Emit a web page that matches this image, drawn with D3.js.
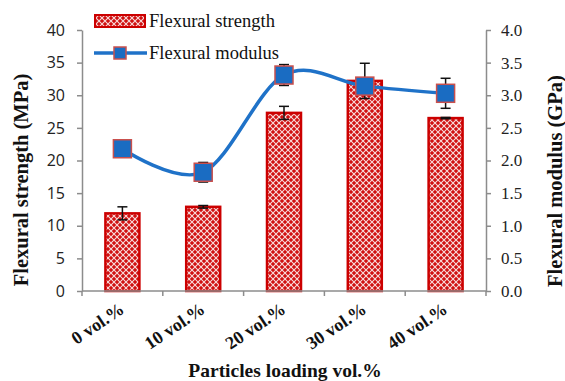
<!DOCTYPE html>
<html><head><meta charset="utf-8">
<script src="https://cdn.jsdelivr.net/npm/d3@7"></script>
<style>body{margin:0;background:#fff}svg{display:block}</style>
</head><body>
<script>
const categories = ["0 vol.%", "10 vol.%", "20 vol.%", "30 vol.%", "40 vol.%"];
const strength = [11.9, 12.9, 27.3, 32.2, 26.5];
const strengthErr = [1.0, 0.2, 1.0, 2.7, 0.1];
const modulus = [2.18, 1.82, 3.31, 3.14, 3.03];
const modulusErr = [0.05, 0.15, 0.16, 0.1, 0.23];
const leftTicks = [0, 5, 10, 15, 20, 25, 30, 35, 40];
const rightTicks = [0, 0.5, 1.0, 1.5, 2.0, 2.5, 3.0, 3.5, 4.0];

const W = 565, H = 381;
const m = {l: 82, r: 486, t: 30, b: 291};
const svg = d3.select("body").append("svg").attr("width", W).attr("height", H);

const defs = svg.append("defs");
const pat = defs.append("pattern").attr("id", "hatch").attr("patternUnits", "userSpaceOnUse")
  .attr("width", 6).attr("height", 6);
pat.append("rect").attr("width", 6).attr("height", 6).attr("fill", "#d01010");
pat.append("path").attr("d", "M0,0L6,6M6,0L0,6").attr("stroke", "#ffffff").attr("stroke-width", 1.1).attr("opacity", 0.85);

const x = d3.scaleBand().domain(categories).range([m.l, m.r]).paddingInner(0).paddingOuter(0);
const yL = d3.scaleLinear().domain([0, 40]).range([m.b, m.t]);
const yR = d3.scaleLinear().domain([0, 4]).range([m.b, m.t]);
const barW = 34;
const cx = d => x(d) + x.bandwidth() / 2;

const axisColor = "#8c8c8c";
// left axis
const gL = svg.append("g").attr("transform", `translate(${m.l},0)`)
  .call(d3.axisLeft(yL).tickValues(leftTicks).tickSize(5).tickPadding(12).tickSizeOuter(0));
gL.selectAll("path,line").attr("stroke", axisColor).attr("stroke-width", 1.5);
gL.selectAll("text").attr("font-family", "'Open Sans', sans-serif").attr("font-size", 16).attr("fill", "#222");
// right axis
const gR = svg.append("g").attr("transform", `translate(${m.r},0)`)
  .call(d3.axisRight(yR).tickValues(rightTicks).tickFormat(d3.format(".1f")).tickSize(5).tickPadding(10).tickSizeOuter(0));
gR.selectAll("path,line").attr("stroke", axisColor).attr("stroke-width", 1.5);
gR.selectAll("text").attr("font-family", "'Liberation Serif', serif").attr("font-size", 17).attr("fill", "#222");

// bars
svg.append("g").selectAll("rect").data(categories).join("rect")
  .attr("x", d => cx(d) - barW / 2).attr("width", barW)
  .attr("y", (d, i) => yL(strength[i])).attr("height", (d, i) => yL(0) - yL(strength[i]))
  .attr("fill", "url(#hatch)").attr("stroke", "#cc0000").attr("stroke-width", 2.5);

// bottom axis
const gB = svg.append("g").attr("transform", `translate(0,${m.b})`);
gB.append("line").attr("x1", m.l).attr("x2", m.r).attr("stroke", axisColor).attr("stroke-width", 1.5);
const bounds = d3.range(categories.length + 1).map(i => m.l + i * x.bandwidth());
gB.selectAll("line.t").data(bounds).join("line").attr("class", "t")
  .attr("x1", d => d).attr("x2", d => d).attr("y1", 0).attr("y2", 5)
  .attr("stroke", axisColor).attr("stroke-width", 1.5);
gB.selectAll("text").data(categories).join("text")
  .attr("transform", d => `translate(${cx(d) + 3},${21}) rotate(-34)`)
  .attr("text-anchor", "end")
  .attr("font-family", "'Liberation Serif', serif").attr("font-weight", "bold").attr("font-size", 18)
  .attr("fill", "#111").text(d => d);

// error bars
function errBars(g, vals, errs, scale) {
  const eg = g.append("g").attr("stroke", "#111").attr("stroke-width", 1.5);
  categories.forEach((c, i) => {
    const X = cx(c), y1 = scale(vals[i] + errs[i]), y0 = scale(vals[i] - errs[i]);
    eg.append("line").attr("x1", X).attr("x2", X).attr("y1", y1).attr("y2", y0);
    eg.append("line").attr("x1", X - 5).attr("x2", X + 5).attr("y1", y1).attr("y2", y1);
    eg.append("line").attr("x1", X - 5).attr("x2", X + 5).attr("y1", y0).attr("y2", y0);
  });
}
errBars(svg, strength, strengthErr, yL);

// modulus line
const line = d3.line().x((d, i) => cx(categories[i])).y(d => yR(d)).curve(d3.curveCardinal.tension(0));
svg.append("path").datum(modulus).attr("d", line).attr("fill", "none")
  .attr("stroke", "#1f72c8").attr("stroke-width", 3.5);
errBars(svg, modulus, modulusErr, yR);
const sq = 18;
svg.append("g").selectAll("rect").data(modulus).join("rect")
  .attr("x", (d, i) => cx(categories[i]) - sq / 2).attr("y", d => yR(d) - sq / 2)
  .attr("width", sq).attr("height", sq)
  .attr("fill", "#1a6cc2").attr("stroke", "#c9504d").attr("stroke-width", 1.5);

// legend
const lg = svg.append("g");
lg.append("rect").attr("x", 95).attr("y", 15).attr("width", 50).attr("height", 12)
  .attr("fill", "url(#hatch)").attr("stroke", "#cc0000").attr("stroke-width", 2);
lg.append("text").attr("x", 149).attr("y", 27).text("Flexural strength");
lg.append("line").attr("x1", 94).attr("x2", 147).attr("y1", 53).attr("y2", 53)
  .attr("stroke", "#1f72c8").attr("stroke-width", 3.5);
lg.append("rect").attr("x", 114).attr("y", 47).attr("width", 12).attr("height", 12)
  .attr("fill", "#1a6cc2").attr("stroke", "#c9504d").attr("stroke-width", 1.5);
lg.append("text").attr("x", 149).attr("y", 59).text("Flexural modulus");
lg.selectAll("text").attr("font-family", "'Liberation Serif', serif").attr("font-size", 18.5).attr("fill", "#111");

// axis titles
const tstyle = (s, fs) => s.attr("font-family", "'Liberation Serif', serif").attr("font-weight", "bold")
  .attr("font-size", fs).attr("fill", "#111").attr("text-anchor", "middle");
svg.append("text").attr("transform", "translate(28,180) rotate(-90)").text("Flexural strength (MPa)").call(tstyle, 20.5);
svg.append("text").attr("transform", "translate(562,181) rotate(-90)").text("Flexural modulus (GPa)").call(tstyle, 20.5);
svg.append("text").attr("x", 285).attr("y", 377).text("Particles loading vol.%").call(tstyle, 19.5);
</script>
</body></html>
